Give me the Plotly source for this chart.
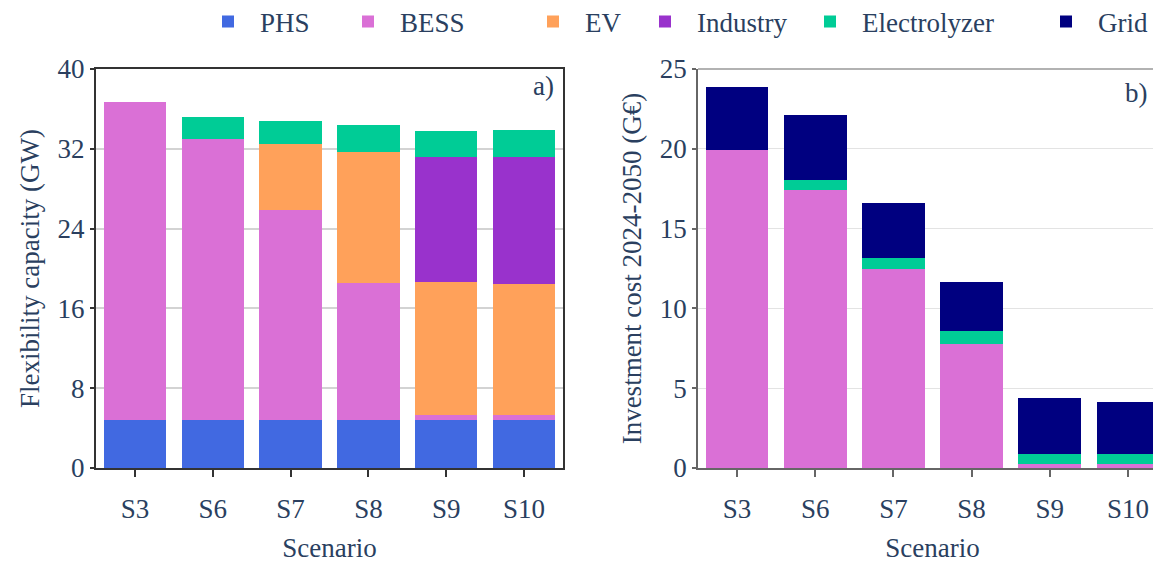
import plotly.graph_objects as go

scenarios = ["S3", "S6", "S7", "S8", "S9", "S10"]

# Panel a) Flexibility capacity (GW), stacked segments
cap_phs = [4.8, 4.8, 4.8, 4.8, 4.8, 4.8]
cap_bess = [31.87, 28.17, 21.07, 13.7, 0.47, 0.47]
cap_ev = [0, 0, 6.63, 13.2, 13.33, 13.2]
cap_industry = [0, 0, 0, 0, 12.57, 12.7]
cap_electrolyzer = [0, 2.2, 2.27, 2.67, 2.6, 2.7]

# Panel b) Investment cost 2024-2050 (G€), stacked segments
cost_bess = [19.9, 17.44, 12.5, 7.79, 0.23, 0.23]
cost_electrolyzer = [0, 0.62, 0.68, 0.81, 0.67, 0.67]
cost_grid = [3.99, 4.08, 3.44, 3.07, 3.5, 3.25]

colors = {
    "PHS": "#4169E1",
    "BESS": "#DA70D6",
    "EV": "#FFA15A",
    "Industry": "#9932CC",
    "Electrolyzer": "#00CC96",
    "Grid": "#000080",
}

FONT = "Liberation Serif, Times New Roman, serif"
FC = "#2a3f5f"
FS = 27
W, H = 1161, 568
OFF = 8  # page offset (body margin)

def f(size=FS):
    return dict(family=FONT, size=size, color=FC)

fig = go.Figure()

legend_map = {"PHS": "legend", "BESS": "legend2", "EV": "legend3",
              "Industry": "legend4", "Electrolyzer": "legend5", "Grid": "legend6"}

left = [("PHS", cap_phs), ("BESS", cap_bess), ("EV", cap_ev),
        ("Industry", cap_industry), ("Electrolyzer", cap_electrolyzer)]
for name, vals in left:
    fig.add_trace(go.Bar(x=scenarios, y=vals, name=name, marker_color=colors[name],
                         marker_line_width=0, xaxis="x", yaxis="y",
                         legend=legend_map[name], showlegend=True, legendgroup=name))

right = [("BESS", cost_bess), ("Electrolyzer", cost_electrolyzer), ("Grid", cost_grid)]
for name, vals in right:
    fig.add_trace(go.Bar(x=scenarios, y=vals, name=name, marker_color=colors[name],
                         marker_line_width=0, xaxis="x2", yaxis="y2",
                         legend=legend_map[name], showlegend=(name == "Grid"),
                         legendgroup=name))

plot_top, plot_bot = 69 - OFF, 468 - OFF
ph = plot_bot - plot_top

def px_to_x(p):
    return (p - OFF) / W

def py_to_y(p):
    return (plot_bot - (p - OFF)) / ph

# legend marker centers (page pixels) in the reference
marker_centers = {"PHS": 228, "BESS": 368, "EV": 553, "Industry": 665,
                  "Electrolyzer": 830, "Grid": 1066}
legend_layouts = {}
for name, key in legend_map.items():
    legend_layouts[key] = dict(
        x=px_to_x(marker_centers[name] - 32), xanchor="left", xref="container",
        y=1 - (22 - OFF) / H, yanchor="middle", yref="container",
        orientation="h", itemwidth=54, font=f(),
        bgcolor="rgba(0,0,0,0)", borderwidth=0,
    )

fig.update_layout(
    width=W, height=H,
    margin=dict(l=0, r=0, t=plot_top, b=H - plot_bot, autoexpand=False),
    barmode="stack", bargap=0.2,
    plot_bgcolor="white", paper_bgcolor="white",
    font=f(),
    xaxis=dict(domain=[px_to_x(96), px_to_x(563)], anchor="y",
               showline=True, linecolor="#333333", linewidth=2, mirror=True,
               ticks="outside", ticklen=7, tickcolor="#333333", tickwidth=1.5,
               ticklabelstandoff=9, tickfont=f(),
               title=dict(text="Scenario", standoff=15, font=f())),
    yaxis=dict(domain=[0, 1], anchor="x", range=[0, 40], dtick=8,
               showline=True, linecolor="#333333", linewidth=2, mirror=True,
               ticks="outside", ticklen=4, tickcolor="#333333", tickwidth=2,
               showgrid=True, gridcolor="#d3d3d3", gridwidth=1.5,
               zeroline=False, tickfont=f(),
               title=dict(text="Flexibility capacity (GW)", standoff=10, font=f())),
    xaxis2=dict(domain=[px_to_x(698), px_to_x(1167)], anchor="y2",
                showline=True, linecolor="#666666", linewidth=1.5,
                ticks="outside", ticklen=7, tickcolor="#666666", tickwidth=1.5,
                ticklabelstandoff=9, tickfont=f(),
                title=dict(text="Scenario", standoff=15, font=f())),
    yaxis2=dict(domain=[0, 1], anchor="x2", range=[0, 25], dtick=5,
                showline=True, linecolor="#666666", linewidth=1.5,
                ticks="outside", ticklen=4, tickcolor="#666666", tickwidth=1.5,
                showgrid=True, gridcolor="#e3e3e3", gridwidth=1,
                zeroline=False, tickfont=f(),
                title=dict(text="Investment cost 2024-2050 (G€)", standoff=10, font=f())),
    shapes=[dict(type="line", xref="paper", yref="paper",
                 x0=px_to_x(698), x1=px_to_x(1167), y0=1, y1=1,
                 line=dict(color="#999999", width=1.5))],
    annotations=[
        dict(text="a)", x=px_to_x(556), y=py_to_y(86), xref="paper", yref="paper",
             xanchor="right", yanchor="middle", showarrow=False, font=f()),
        dict(text="b)", x=px_to_x(1150), y=py_to_y(93), xref="paper", yref="paper",
             xanchor="right", yanchor="middle", showarrow=False, font=f()),
    ],
    **legend_layouts,
)

fig.write_html("out.html")
